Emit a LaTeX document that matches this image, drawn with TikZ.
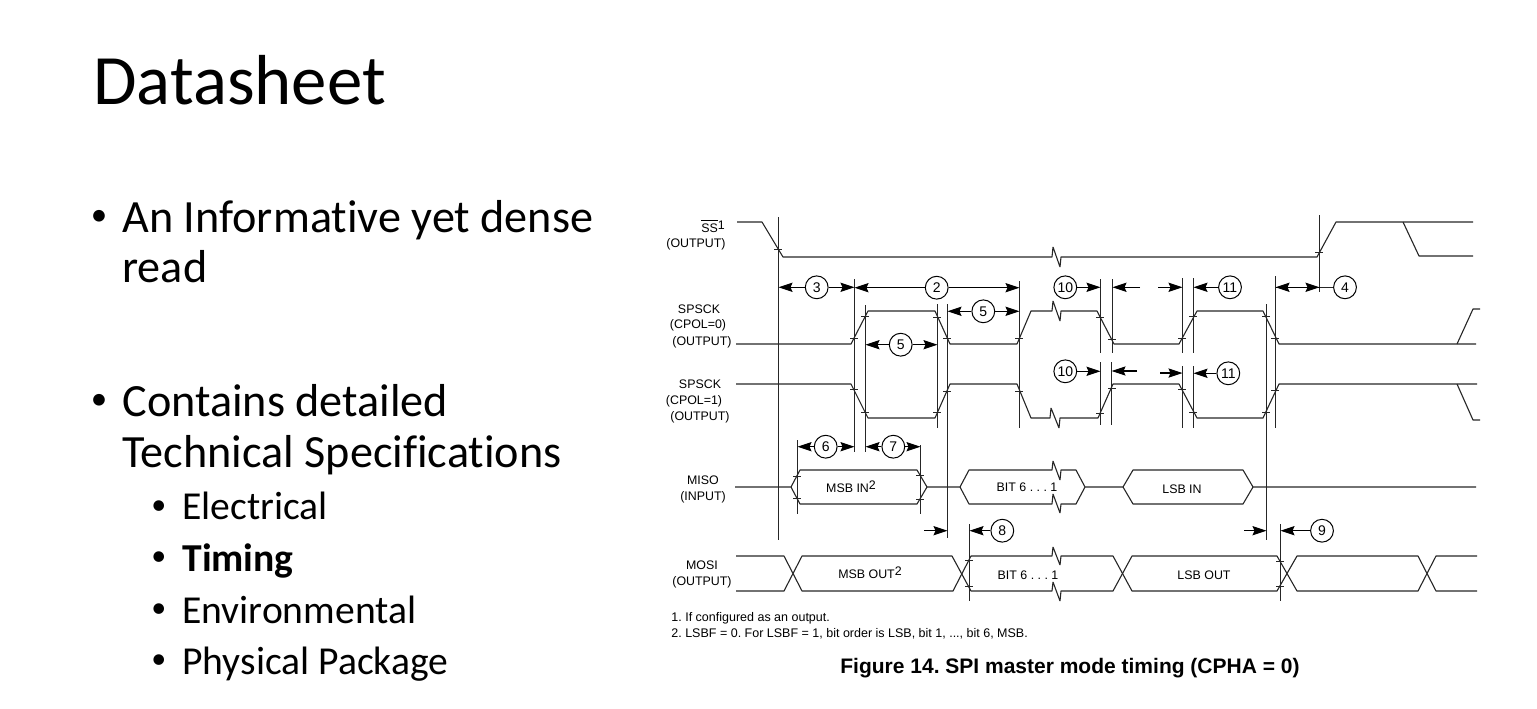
\documentclass[tikz,border=0pt]{standalone}
\usepackage{fontspec}
\setmainfont{Carlito}
\newfontfamily\bodyfont[Ligatures=NoCommon]{Carlito}
\newfontfamily\arialfont{Liberation Sans}
\usetikzlibrary{arrows.meta}
\frenchspacing
\tikzset{
  title/.style={anchor=base west,inner sep=0pt,font=\fontsize{35.4}{40}\selectfont},
  item/.style={anchor=base west,inner sep=0pt,font=\bodyfont\fontsize{23.1}{27}\selectfont},
  subitem/.style={anchor=base west,inner sep=0pt,font=\bodyfont\fontsize{19.8}{23}\selectfont},
  bul/.style={anchor=base west,inner sep=0pt,font=\fontsize{16.5}{20}\selectfont},
  subbul/.style={anchor=base west,inner sep=0pt,font=\fontsize{15}{18}\selectfont},
  lab/.style={inner sep=0pt,font=\arialfont\fontsize{6.2}{7.5}\selectfont},
  note/.style={anchor=west,inner sep=0pt,font=\arialfont\fontsize{6.25}{7.5}\selectfont},
  num/.style={circle,draw,line width=0.5pt,minimum size=11.4pt,inner sep=0pt,font=\arialfont\fontsize{7}{8}\selectfont},
  sig/.style={line width=0.55pt,line join=bevel,black!85},
  dim/.style={line width=0.55pt,-{Stealth[length=7pt,width=4.6pt,inset=1pt]}}
}
\begin{document}
\begin{tikzpicture}[x=0.5pt,y=-0.5pt]
  \useasboundingbox (0,0) rectangle (1537,708);
  % slide text
  \node[title] (head) at (93,104) {Datasheet};
  \node[bul] (b1) at (90.5,225) {•};
  \node[item] (t1) at (122,232) {An Informative yet dense};
  \node[item] (t1b) at (122,282) {read};
  \node[bul] (b2) at (90.5,409.5) {•};
  \node[item] (t2) at (122,416) {Contains detailed};
  \node[item] (t2b) at (122,467) {Technical Specifications};
  \node[subbul] (b3) at (151,514.6) {•};
  \node[subitem] (s1) at (182,519.5) {Electrical};
  \node[subbul] (b4) at (151,565.6) {•};
  \node[subitem] (s2) at (182,571) {\textbf{Timing}};
  \node[subbul] (b5) at (151,617.6) {•};
  \node[subitem] (s3) at (182,623) {Environmental};
  \node[subbul] (b6) at (151,668.6) {•};
  \node[subitem] (s4) at (182,674.5) {Physical Package};
  % signal names
  \node[lab] (ss) at (713,226) {$\overline{\mbox{SS}}$\raisebox{0.5ex}{1}};
  \node[lab] (ssb) at (696,244) {(OUTPUT)};
  \node[lab] (ck0) at (699,309) {SPSCK};
  \node[lab] (ck0a) at (698,325) {(CPOL=0)};
  \node[lab] (ck0b) at (702,342) {(OUTPUT)};
  \node[lab] (ck1) at (700,384) {SPSCK};
  \node[lab] (ck1a) at (694,401) {(CPOL=1)};
  \node[lab] (ck1b) at (700,417) {(OUTPUT)};
  \node[lab] (miso) at (703,480) {MISO};
  \node[lab] (misob) at (703,497) {(INPUT)};
  \node[lab] (mosi) at (702,565) {MOSI};
  \node[lab] (mosib) at (702,582) {(OUTPUT)};
  \node[lab] (d1) at (851,487) {MSB IN\raisebox{0.5ex}{2}};
  \node[lab] (d2) at (1027,487) {BIT 6 . . . 1};
  \node[lab] (d3) at (1182,489) {LSB IN};
  \node[lab] (d4) at (870,573) {MSB OUT\raisebox{0.5ex}{2}};
  \node[lab] (d5) at (1028,575) {BIT 6 . . . 1};
  \node[lab] (d6) at (1204,575) {LSB OUT};
  \node[note] (n1) at (671,618) {1. If configured as an output.};
  \node[note] (n2) at (671,634) {2. LSBF = 0. For LSBF = 1, bit order is LSB, bit 1, ..., bit 6, MSB.};
  \node[inner sep=0pt,font=\arialfont\bfseries\fontsize{10.5}{12}\selectfont] (cap) at (1070,668) {Figure 14. SPI master mode timing (CPHA = 0)};
  % waveforms
  \draw[sig] (737,222) -- (762,222) -- (783,257) -- (1052,257) -- (1053,247) -- (1060,267) -- (1061,257) -- (1317,257) -- (1336,222) -- (1473,222);
  \draw[sig] (1403,222) -- (1419,256) -- (1473,256);
  \draw[sig] (736,344) -- (851,344) -- (868,311) -- (935,311) -- (950,344) -- (1017,344) -- (1031,311) -- (1052,311) -- (1053,301) -- (1060,321) -- (1061,311) -- (1097,311) -- (1114,344) -- (1179,344) -- (1197,311) -- (1263,311) -- (1279,344) -- (1476,344);
  \draw[sig] (1457,344) -- (1473,309) -- (1480,309);
  \draw[sig] (736,384) -- (851,384) -- (868,418) -- (935,418) -- (950,384) -- (1017,384) -- (1031,418) -- (1050,418) -- (1051,408) -- (1059,428) -- (1060,418) -- (1098,418) -- (1113,384) -- (1179,384) -- (1197,418) -- (1263,418) -- (1279,384) -- (1477,384);
  \draw[sig] (1457,384) -- (1473,420) -- (1480,420);
  \draw[sig] (735,487) -- (791,487) -- (800,470) -- (917,470) -- (927,487) -- (917,504) -- (800,504) -- (791,487);
  \draw[sig] (927,487) -- (960,487) -- (969,470) -- (1052,470) -- (1053,461) -- (1060,480) -- (1061,470) -- (1076,470) -- (1085,487) -- (1123,487) -- (1133,470) -- (1243,470) -- (1253,487) -- (1476,487);
  \draw[sig] (960,487) -- (969,504) -- (1052,504) -- (1053,494) -- (1060,513) -- (1061,504) -- (1076,504) -- (1085,487);
  \draw[sig] (1123,487) -- (1133,504) -- (1243,504) -- (1253,487);
  \draw[sig] (736,556) -- (784,556) -- (802,591) -- (953,591) -- (971,556) -- (1052,556) -- (1053,547) -- (1060,565) -- (1061,556) -- (1113,556) -- (1132,591) -- (1277,591) -- (1297,556) -- (1418,556) -- (1436,591) -- (1477,591);
  \draw[sig] (736,591) -- (784,591) -- (802,556) -- (952,556) -- (971,591) -- (1052,591) -- (1053,582) -- (1060,601) -- (1061,591) -- (1113,591) -- (1132,556) -- (1277,556) -- (1297,591) -- (1418,591) -- (1436,556) -- (1477,556);
  % timing edges
  \coordinate (v1) at (778.5,217);
  \coordinate (v1b) at (778.5,540);
  \coordinate (v2) at (854.5,279);
  \coordinate (v2b) at (854.5,452);
  \coordinate (v3) at (865.5,305);
  \coordinate (v3b) at (865.5,452);
  \coordinate (v4) at (937.5,304);
  \coordinate (v4b) at (937.5,428);
  \coordinate (v5) at (947.5,304);
  \coordinate (v5b) at (947.5,538);
  \coordinate (v6) at (1019.5,281);
  \coordinate (v6b) at (1019.5,428);
  \coordinate (v7) at (1100.5,279);
  \coordinate (v7b) at (1100.5,353);
  \coordinate (v8) at (1112.5,279);
  \coordinate (v8b) at (1112.5,353);
  \coordinate (v9) at (1182.5,278);
  \coordinate (v9b) at (1182.5,353);
  \coordinate (v10) at (1193.5,278);
  \coordinate (v10b) at (1193.5,353);
  \coordinate (w7) at (1100.5,362);
  \coordinate (w7b) at (1100.5,425);
  \coordinate (w8) at (1111.5,362);
  \coordinate (w8b) at (1111.5,425);
  \coordinate (w9) at (1182.5,366);
  \coordinate (w9b) at (1182.5,428);
  \coordinate (w10) at (1193.5,366);
  \coordinate (w10b) at (1193.5,428);
  \coordinate (v11) at (1266.5,304);
  \coordinate (v11b) at (1266.5,540);
  \coordinate (v12) at (1275.5,276);
  \coordinate (v12b) at (1275.5,428);
  \coordinate (v13) at (1319.5,215);
  \coordinate (v13b) at (1319.5,292);
  \coordinate (m1) at (797.5,440);
  \coordinate (m1b) at (797.5,514);
  \coordinate (m2) at (920.5,445);
  \coordinate (m2b) at (920.5,514);
  \coordinate (o1) at (969.5,524);
  \coordinate (o1b) at (969.5,601);
  \coordinate (o2) at (1280.5,524);
  \coordinate (o2b) at (1280.5,601);
  \begin{scope}[sig]
    \draw (v1) to (v1b);
    \draw (v2) to (v2b);
    \draw (v3) to (v3b);
    \draw (v4) to (v4b);
    \draw (v5) to (v5b);
    \draw (v6) to (v6b);
    \draw (v7) to (v7b);
    \draw (v8) to (v8b);
    \draw (v9) to (v9b);
    \draw (v10) to (v10b);
    \draw (w7) to (w7b);
    \draw (w8) to (w8b);
    \draw (w9) to (w9b);
    \draw (w10) to (w10b);
    \draw (v11) to (v11b);
    \draw (v12) to (v12b);
    \draw (v13) to (v13b);
    \draw (m1) to (m1b);
    \draw (m2) to (m2b);
    \draw (o1) to (o1b);
    \draw (o2) to (o2b);
  \end{scope}
  % crossing marks
  \draw[sig,line width=0.45pt]
    (774,249) -- ++(8,0) (1315,252) -- ++(8,0)
    (850,338) -- ++(8,0) (861,316) -- ++(8,0) (933,317) -- ++(8,0) (943,338) -- ++(8,0) (1015,338) -- ++(8,0)
    (1096,317) -- ++(8,0) (1108,339) -- ++(8,0) (1178,338) -- ++(8,0) (1189,316) -- ++(8,0) (1262,316) -- ++(8,0) (1271,338) -- ++(8,0)
    (850,389) -- ++(8,0) (861,412) -- ++(8,0) (933,412) -- ++(8,0) (943,391) -- ++(8,0) (1015,391) -- ++(8,0)
    (1096,413) -- ++(8,0) (1108,388) -- ++(8,0) (1178,389) -- ++(8,0) (1189,412) -- ++(8,0) (1262,412) -- ++(8,0) (1271,390) -- ++(8,0)
    (793,476) -- ++(8,0) (793,498) -- ++(8,0) (916,475) -- ++(8,0) (916,499) -- ++(8,0)
    (965,560) -- ++(8,0) (965,586) -- ++(8,0) (1276,561) -- ++(8,0) (1276,586) -- ++(8,0);
  % numbered intervals
  \node[num] (c3) at (816.7,287.3) {3};
  \node[num] (c2) at (936.7,287.7) {2};
  \node[num] (c5a) at (983.3,311.3) {5};
  \node[num] (c5b) at (900.7,344.7) {5};
  \node[num] (c10a) at (1065.3,287.3) {10};
  \node[num] (c10b) at (1065.3,371.3) {10};
  \node[num] (c11a) at (1230,287.3) {11};
  \node[num] (c11b) at (1228.3,373.3) {11};
  \node[num] (c4) at (1345,287.3) {4};
  \node[num] (c6) at (825.7,446.7) {6};
  \node[num] (c7) at (893.3,446.7) {7};
  \node[num] (c8) at (1002.3,530.7) {8};
  \node[num] (c9) at (1322,530.7) {9};
  \coordinate (f1) at (1140,287.3);
  \coordinate (f2) at (1158,287.3);
  \coordinate (f3) at (1137,371);
  \coordinate (f4) at (1160,373);
  \coordinate (f5) at (924,530.7);
  \coordinate (f6) at (1244,530.7);
  \coordinate (f7) at (1319.5,287.3);
  \draw[dim] (c3) to (c3 -| v1);
  \draw[dim] (c3) to (c3 -| v2);
  \draw[dim] (c2) to (c2 -| v2);
  \draw[dim] (c2) to (c2 -| v6);
  \draw[dim] (c5a) to (c5a -| v5);
  \draw[dim] (c5a) to (c5a -| v6);
  \draw[dim] (c5b) to (c5b -| v3);
  \draw[dim] (c5b) to (c5b -| v4);
  \draw[dim] (c10a) to (c10a -| v7);
  \draw[dim] (c10b) to (c10b -| w7);
  \draw[dim] (f1) to (f1 -| v8);
  \draw[dim] (f2) to (f2 -| v9);
  \draw[dim] (f3) to (f3 -| w8);
  \draw[dim] (f4) to (f4 -| w9);
  \draw[dim] (c11a) to (c11a -| v10);
  \draw[dim] (c11b) to (c11b -| w10);
  \draw[sig] (c4) to (f7);
  \draw[dim] (f7) to (f7 -| v12);
  \draw[dim] (f7 -| v12) to (f7);
  \draw[dim] (c6) to (c6 -| m1);
  \draw[dim] (c6) to (c6 -| v2);
  \draw[dim] (c7) to (c7 -| v3);
  \draw[dim] (c7) to (c7 -| m2);
  \draw[dim] (c8) to (c8 -| o1);
  \draw[dim] (f5) to (f5 -| v5);
  \draw[dim] (c9) to (c9 -| o2);
  \draw[dim] (f6) to (f6 -| v11);
\end{tikzpicture}
\end{document}
